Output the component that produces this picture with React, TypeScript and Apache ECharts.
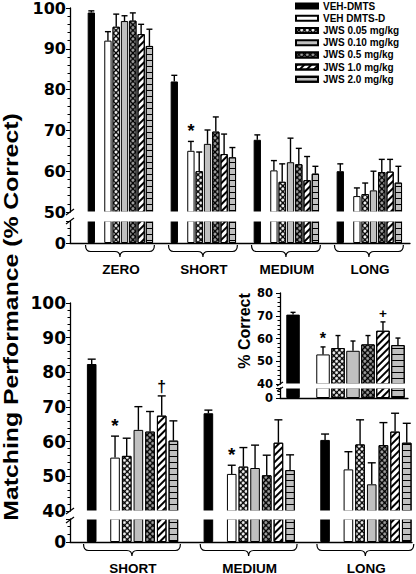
import React, { useEffect, useRef } from 'react';
import * as echarts from 'echarts';

const SERIES_NAMES = ['VEH-DMTS', 'VEH DMTS-D', 'JWS 0.05 mg/kg', 'JWS 0.10 mg/kg', 'JWS 0.5 mg/kg', 'JWS 1.0 mg/kg', 'JWS 2.0 mg/kg'];
const SLOTS = [0, 2, 3, 4, 5, 6, 7];

// Top panel (delay categories)
const TOP_GROUPS = ['ZERO', 'SHORT', 'MEDIUM', 'LONG'];
const TOP_VEH = [98.9, 82.0, 67.7, 60.0];
const TOP_VEH_D = [92.0, 65.0, 60.2, 53.9];
const TOP_JWS005 = [95.4, 60.0, 57.4, 54.4];
const TOP_JWS010 = [96.8, 66.7, 62.2, 55.3];
const TOP_JWS05 = [96.9, 69.7, 61.7, 59.8];
const TOP_JWS10 = [93.6, 64.2, 57.8, 59.9];
const TOP_JWS20 = [90.7, 63.4, 59.4, 57.2];
const TOP_VEH_SEM = [0.4, 1.5, 1.2, 1.8];
const TOP_VEH_D_SEM = [2.2, 2.3, 2.4, 2.0];
const TOP_JWS005_SEM = [3.1, 4.7, 4.4, 2.7];
const TOP_JWS010_SEM = [1.3, 3.4, 5.9, 4.7];
const TOP_JWS05_SEM = [1.9, 3.6, 3.9, 3.1];
const TOP_JWS10_SEM = [2.4, 4.9, 5.8, 3.0];
const TOP_JWS20_SEM = [4.1, 2.4, 1.8, 4.0];
const TOP_MARKS: [number, number, string][] = [[1, 1, '*']];

// Bottom panel
const BOT_GROUPS = ['SHORT', 'MEDIUM', 'LONG'];
const BOT_VEH = [82.4, 68.2, 60.5];
const BOT_VEH_D = [55.4, 50.7, 52.0];
const BOT_JWS005 = [55.9, 52.8, 59.2];
const BOT_JWS010 = [63.4, 52.4, 47.7];
const BOT_JWS05 = [62.9, 50.3, 59.0];
const BOT_JWS10 = [67.5, 59.7, 62.9];
const BOT_JWS20 = [60.3, 51.8, 59.7];
const BOT_VEH_SEM = [1.4, 0.9, 1.7];
const BOT_VEH_D_SEM = [6.2, 2.5, 5.1];
const BOT_JWS005_SEM = [5.1, 5.5, 7.1];
const BOT_JWS010_SEM = [6.7, 6.6, 6.2];
const BOT_JWS05_SEM = [5.8, 5.8, 6.5];
const BOT_JWS10_SEM = [5.7, 6.6, 5.3];
const BOT_JWS20_SEM = [5.7, 4.4, 5.6];
const BOT_MARKS: [number, number, string][] = [[0, 1, '*'], [0, 5, '†'], [1, 1, '*']];

// Inset
const INSET_MEANS = [70.5, 53.0, 55.8, 54.6, 57.4, 63.4, 57.1];
const INSET_SEMS = [1.0, 3.3, 5.5, 4.3, 3.9, 3.9, 3.1];
const INSET_MARKS: [number, number, string][] = [[0, 1, '*'], [0, 5, '+']];

const FONT_ARIAL = '"Liberation Sans", Arial, sans-serif';
const FONT_DEJAVU = '"DejaVu Sans", sans-serif';

const FILLS = ['#000000', '#ffffff', '#000000', '#c0c0c0', '#000000', '#ffffff', '#c0c0c0'];
const DECALS: any[] = [
  null,
  null,
  { symbol: 'circle', symbolSize: 1, color: '#ffffff', backgroundColor: '#000000', dashArrayX: [2.6, 1], dashArrayY: [2.6, 1], rotation: Math.PI / 4 },
  null,
  { symbol: 'circle', symbolSize: 1, color: '#a6a6a6', backgroundColor: '#000000', dashArrayX: [2.6, 1], dashArrayY: [2.6, 1], rotation: Math.PI / 4 },
  { symbol: 'rect', symbolSize: 1, color: '#000000', backgroundColor: '#ffffff', dashArrayX: [1, 0], dashArrayY: [1.2, 2.6], rotation: -Math.PI / 4 },
  { symbol: 'rect', symbolSize: 1, color: '#000000', backgroundColor: '#c0c0c0', dashArrayX: [1, 0], dashArrayY: [1, 4.5], rotation: 0 },
];

function buildOption() {
  const grids = [
    { left: 70, top: 6, width: 340, height: 206 },
    { left: 70, top: 221, width: 340, height: 22 },
    { left: 70, top: 303, width: 342, height: 208 },
    { left: 70, top: 519, width: 342, height: 23 },
    { left: 280, top: 293, width: 128, height: 91 },
    { left: 280, top: 388, width: 128, height: 10 },
  ];
  const xRanges = [[-2.57, 38.4], [-2.57, 38.4], [-1.86, 27.45], [-1.86, 27.45], [-0.87, 7.67], [-0.87, 7.67]];
  const yRanges = [[50, 100], [0, 10], [40, 100], [0, 10], [40, 80], [0, 10]];
  const labelSizes = [16, 16, 17, 17, 11.5, 11.5];
  const labelMargins = [4, 4, 4, 4, 7, 7];

  const xAxis = grids.map((_, i) => ({
    type: 'value', gridIndex: i, min: xRanges[i][0], max: xRanges[i][1],
    show: i % 2 === 1,
    axisLine: { show: true, onZero: false, lineStyle: { color: '#000', width: 1.3 } },
    axisTick: { show: false }, axisLabel: { show: false }, splitLine: { show: false },
  }));
  const yAxis = grids.map((_, i) => {
    const lower = i % 2 === 1;
    return {
      type: 'value', gridIndex: i, min: yRanges[i][0], max: yRanges[i][1], interval: 10,
      axisLine: { show: true, onZero: false, lineStyle: { color: '#000', width: 1.3 } },
      axisTick: { show: true, length: 4, lineStyle: { color: '#000' } },
      minorTick: { show: true, splitNumber: lower ? 3 : 5, length: 2.5, lineStyle: { color: '#000' } },
      splitLine: { show: false },
      axisLabel: {
        color: '#000', fontFamily: FONT_DEJAVU, fontWeight: 'bold', fontSize: labelSizes[i], margin: labelMargins[i],
        formatter: (v: number) => (lower ? (v === 0 ? '0' : '') : String(v)),
      },
    };
  });

  const panels = [
    {
      upper: 0, lower: 1, groups: TOP_GROUPS,
      means: [TOP_VEH, TOP_VEH_D, TOP_JWS005, TOP_JWS010, TOP_JWS05, TOP_JWS10, TOP_JWS20],
      sems: [TOP_VEH_SEM, TOP_VEH_D_SEM, TOP_JWS005_SEM, TOP_JWS010_SEM, TOP_JWS05_SEM, TOP_JWS10_SEM, TOP_JWS20_SEM],
      marks: TOP_MARKS, barWidth: 7.3, cap: 6, markScale: 1, braces: true,
    },
    {
      upper: 2, lower: 3, groups: BOT_GROUPS,
      means: [BOT_VEH, BOT_VEH_D, BOT_JWS005, BOT_JWS010, BOT_JWS05, BOT_JWS10, BOT_JWS20],
      sems: [BOT_VEH_SEM, BOT_VEH_D_SEM, BOT_JWS005_SEM, BOT_JWS010_SEM, BOT_JWS05_SEM, BOT_JWS10_SEM, BOT_JWS20_SEM],
      marks: BOT_MARKS, barWidth: 9.6, cap: 8, markScale: 1.05, braces: true,
    },
    {
      upper: 4, lower: 5, groups: [''],
      means: INSET_MEANS.map((v) => [v]), sems: INSET_SEMS.map((v) => [v]),
      marks: INSET_MARKS, barWidth: 13.5, cap: 5, markScale: 0.9, braces: false,
    },
  ];

  const series: any[] = [];
  panels.forEach((p) => {
    for (let s = 0; s < 7; s++) {
      const itemStyle: any = { color: FILLS[s], borderColor: '#000', borderWidth: 1 };
      if (DECALS[s]) itemStyle.decal = DECALS[s];
      series.push({
        type: 'bar', name: SERIES_NAMES[s], xAxisIndex: p.upper, yAxisIndex: p.upper,
        barWidth: p.barWidth, barGap: '-100%', clip: true, silent: true, itemStyle,
        data: p.groups.map((_, g) => [g * 10 + SLOTS[s], p.means[s][g]]),
      });
      series.push({
        type: 'bar', name: SERIES_NAMES[s], xAxisIndex: p.lower, yAxisIndex: p.lower,
        barWidth: p.barWidth, barGap: '-100%', clip: true, silent: true, itemStyle,
        data: p.groups.map((_, g) => [g * 10 + SLOTS[s], 20]),
      });
    }
    const errData: number[][] = [];
    for (let s = 0; s < 7; s++) {
      p.groups.forEach((_, g) => {
        errData.push([g * 10 + SLOTS[s], p.means[s][g], p.means[s][g] + p.sems[s][g]]);
      });
    }
    const cap = p.cap;
    series.push({
      type: 'custom', xAxisIndex: p.upper, yAxisIndex: p.upper, silent: true, z: 5,
      data: errData,
      renderItem: (params: any, api: any) => {
        const a = api.coord([api.value(0), api.value(1)]);
        const b = api.coord([api.value(0), api.value(2)]);
        return {
          type: 'group', children: [
            { type: 'line', shape: { x1: a[0], y1: a[1], x2: b[0], y2: b[1] }, style: { stroke: '#000', lineWidth: 1.4 } },
            { type: 'line', shape: { x1: b[0] - cap / 2, y1: b[1], x2: b[0] + cap / 2, y2: b[1] }, style: { stroke: '#000', lineWidth: 1.4 } },
          ],
        };
      },
    });
    const marks = p.marks;
    const ms = p.markScale;
    series.push({
      type: 'custom', xAxisIndex: p.upper, yAxisIndex: p.upper, silent: true, z: 6,
      data: marks.map(([g, s]) => [g * 10 + SLOTS[s], p.means[s][g] + p.sems[s][g]]),
      renderItem: (params: any, api: any) => {
        const c = marks[params.dataIndex][2];
        const pt = api.coord([api.value(0), api.value(1)]);
        const size = (c === '*' ? 18 : 15) * ms;
        return {
          type: 'text', x: pt[0], y: pt[1] - 1,
          style: { text: c, font: `bold ${size}px ${FONT_ARIAL}`, fill: '#000', align: 'center', verticalAlign: 'bottom', textAlign: 'center', textVerticalAlign: 'bottom' },
        };
      },
    });
    if (p.braces) {
      const groups = p.groups;
      series.push({
        type: 'custom', xAxisIndex: p.lower, yAxisIndex: p.lower, silent: true, clip: false, z: 6,
        data: groups.map((_, g) => [g * 10, 0]),
        renderItem: (params: any, api: any) => {
          const gx = api.value(0);
          const l = api.coord([gx - 0.7, 0]);
          const r = api.coord([gx + 7.6, 0]);
          const y0 = l[1];
          const x0 = l[0];
          const x1 = r[0];
          const mid = (x0 + x1) / 2;
          const yb = y0 + 8.5;
          const yt = y0 + 14;
          const d = `M${x0} ${y0 + 2} Q${x0} ${yb} ${x0 + 5} ${yb} L${mid - 5} ${yb} Q${mid} ${yb} ${mid} ${yt} Q${mid} ${yb} ${mid + 5} ${yb} L${x1 - 5} ${yb} Q${x1} ${yb} ${x1} ${y0 + 2}`;
          return {
            type: 'group', children: [
              { type: 'path', shape: { pathData: d }, style: { fill: 'none', stroke: '#000', lineWidth: 1.2 } },
              {
                type: 'text', x: mid + 1, y: y0 + 26,
                style: { text: groups[params.dataIndex], font: `bold 13.5px ${FONT_ARIAL}`, fill: '#000', align: 'center', verticalAlign: 'middle', textAlign: 'center', textVerticalAlign: 'middle' },
              },
            ],
          };
        },
      });
    }
  });

  const breakLine = (x1: number, y1: number, x2: number, y2: number) => ({
    type: 'line', z: 101, shape: { x1, y1, x2, y2 }, style: { stroke: '#000', lineWidth: 1.2 }, silent: true,
  });
  const band = (x: number, y: number, w: number, h: number) => ({
    type: 'rect', z: 100, shape: { x, y, width: w, height: h }, style: { fill: '#ffffff' }, silent: true,
  });

  return {
    animation: false,
    backgroundColor: '#ffffff',
    grid: grids,
    xAxis,
    yAxis,
    legend: {
      show: true, left: 295, top: 0, padding: 0, orient: 'vertical', itemWidth: 22, itemHeight: 5, itemGap: 0,
      icon: 'rect', selectedMode: false, data: SERIES_NAMES,
      textStyle: { fontFamily: FONT_ARIAL, fontWeight: 'bold', fontSize: 10, color: '#000', lineHeight: 12.2 },
    },
    graphic: [
      {
        type: 'text', x: 11, y: 317, rotation: Math.PI / 2, scaleX: 1.18, scaleY: 1, silent: true, z: 100,
        style: { text: 'Matching Performance (% Correct)', font: `bold 21px ${FONT_ARIAL}`, fill: '#000', textAlign: 'center', textVerticalAlign: 'middle' },
      },
      {
        type: 'text', x: 244, y: 331, rotation: Math.PI / 2, silent: true, z: 100,
        style: { text: '% Correct', font: `bold 16px ${FONT_ARIAL}`, fill: '#000', textAlign: 'center', textVerticalAlign: 'middle' },
      },
      band(71, 211.6, 340, 10),
      band(71, 510.6, 342, 9),
      band(281, 383.6, 128, 5),
      breakLine(66, 215, 74, 209),
      breakLine(66, 224, 74, 218),
      breakLine(66, 514, 74, 508),
      breakLine(66, 523, 74, 517),
      breakLine(277, 386, 283, 382),
      breakLine(277, 391, 283, 387),
    ],
    series,
  };
}

export default function App() {
  const ref = useRef<HTMLDivElement>(null);
  useEffect(() => {
    const chart = echarts.init(ref.current as HTMLDivElement, null, { renderer: 'svg' });
    chart.setOption(buildOption() as any);
    return () => chart.dispose();
  }, []);
  return <div ref={ref} style={{ position: 'fixed', left: 0, top: 0, width: 416, height: 574, background: '#fff' }} />;
}
